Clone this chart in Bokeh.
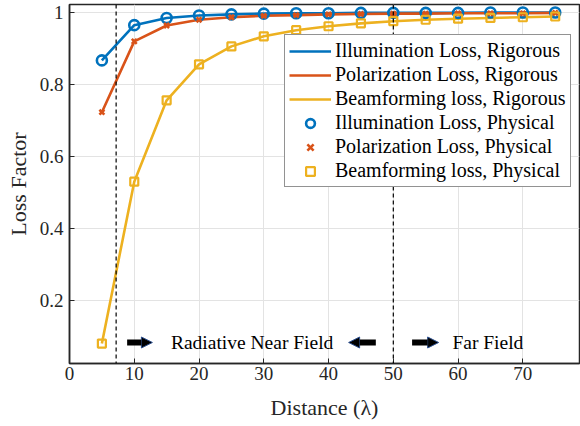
from bokeh.plotting import figure
from bokeh.models import (ColumnDataSource, Span, Label, Arrow, NormalHead,
                          FixedTicker, Legend, LegendItem)
from bokeh.embed import file_html
from bokeh.resources import INLINE

distance = [5, 10, 15, 20, 25, 30, 35, 40, 45, 50, 55, 60, 65, 70, 75]
illum = [0.866, 0.964, 0.984, 0.991, 0.994, 0.996, 0.997, 0.997, 0.998, 0.998, 0.998, 0.998, 0.999, 0.999, 0.999]
polar = [0.722, 0.919, 0.963, 0.979, 0.986, 0.990, 0.992, 0.994, 0.995, 0.996, 0.996, 0.997, 0.997, 0.997, 0.998]
beam = [0.079, 0.529, 0.755, 0.855, 0.905, 0.933, 0.950, 0.961, 0.969, 0.975, 0.979, 0.982, 0.984, 0.986, 0.988]

x_ticks = [0, 10, 20, 30, 40, 50, 60, 70]
y_ticks = [0.2, 0.4, 0.6, 0.8, 1.0]
boundary_near = 7.2
boundary_far = 50

BLUE = "#0072BD"
ORANGE = "#D95319"
YELLOW = "#EDB120"
FONT = "Liberation Serif"
AX = "#262626"

src = ColumnDataSource(dict(x=distance, illum=illum, polar=polar, beam=beam))

p = figure(width=580, height=426, x_range=(0, 78.75), y_range=(0.0236, 1.0214),
           output_backend="svg", toolbar_location=None,
           min_border_left=69, min_border_right=1, min_border_top=4, min_border_bottom=63)
p.background_fill_color = "white"
p.border_fill_color = "white"
p.outline_line_color = AX
p.outline_line_width = 1.5

for g in (p.xgrid, p.ygrid):
    g.grid_line_color = "#e3e3e3"
    g.grid_line_width = 1
p.xaxis.ticker = FixedTicker(ticks=x_ticks)
p.yaxis.ticker = FixedTicker(ticks=y_ticks)
p.yaxis.major_label_overrides = {1.0: "1", 1: "1"}

for ax in (p.xaxis, p.yaxis):
    ax.axis_line_color = AX
    ax.axis_line_width = 1.5
    ax.major_tick_line_color = AX
    ax.major_tick_in = 5
    ax.major_tick_out = 0
    ax.minor_tick_line_color = None
    ax.major_label_text_font = FONT
    ax.major_label_text_font_size = "19px"
    ax.major_label_text_color = AX
    ax.axis_label_text_font = FONT
    ax.axis_label_text_font_size = "22px"
    ax.axis_label_text_font_style = "normal"
    ax.axis_label_text_color = AX
p.xaxis.axis_label = "Distance (λ)"
p.yaxis.axis_label = "Loss Factor"
p.xaxis.major_label_standoff = 3
p.xaxis.axis_label_standoff = 12
p.yaxis.major_label_standoff = 6
p.yaxis.axis_label_standoff = 6

for xb in (boundary_near, boundary_far):
    p.add_layout(Span(location=xb, dimension="height", line_color="black",
                      line_dash="4 3", line_width=1.2))

l1 = p.line("x", "illum", source=src, line_color=BLUE, line_width=2.6)
l2 = p.line("x", "polar", source=src, line_color=ORANGE, line_width=2.6)
l3 = p.line("x", "beam", source=src, line_color=YELLOW, line_width=2.6)
m1 = p.scatter("x", "illum", source=src, marker="circle", size=10, fill_color=None,
               line_color=BLUE, line_width=2.6)
m2 = p.scatter("x", "polar", source=src, marker="x", size=7,
               line_color=ORANGE, line_width=2.6)
m3 = p.scatter("x", "beam", source=src, marker="square", size=8, fill_color=None,
               line_color=YELLOW, line_width=2.2)

legend = Legend(items=[
    LegendItem(label="Illumination Loss, Rigorous", renderers=[l1]),
    LegendItem(label="Polarization Loss, Rigorous", renderers=[l2]),
    LegendItem(label="Beamforming loss, Rigorous", renderers=[l3]),
    LegendItem(label="Illumination Loss, Physical", renderers=[m1]),
    LegendItem(label="Polarization Loss, Physical", renderers=[m2]),
    LegendItem(label="Beamforming loss, Physical", renderers=[m3]),
], location=(215, 176))
legend.label_text_font = FONT
legend.label_text_font_size = "20px"
legend.label_text_color = "black"
legend.glyph_width = 42
legend.glyph_height = 22
legend.label_height = 22
legend.label_standoff = 4
legend.spacing = 1
legend.padding = 4
legend.margin = 0
legend.border_line_color = AX
legend.border_line_width = 1.2
legend.background_fill_alpha = 1
p.add_layout(legend)

lab_y = 0.082
for txt, xc in (("Radiative Near Field", 28.2), ("Far Field", 64.6)):
    p.add_layout(Label(x=xc, y=lab_y, text=txt, text_align="center",
                       text_baseline="middle", text_font=FONT,
                       text_font_size="19.5px", text_color="black"))
for xs, xe in ((8.9, 12.8), (47.3, 43.1), (52.9, 57.0)):
    p.add_layout(Arrow(x_start=xs, y_start=lab_y, x_end=xe, y_end=lab_y,
                       line_color="black", line_width=6,
                       end=NormalHead(size=11, fill_color="black",
                                      line_color="#2c4f8f", line_width=1)))

open("out.html", "w").write(file_html(p, INLINE))
